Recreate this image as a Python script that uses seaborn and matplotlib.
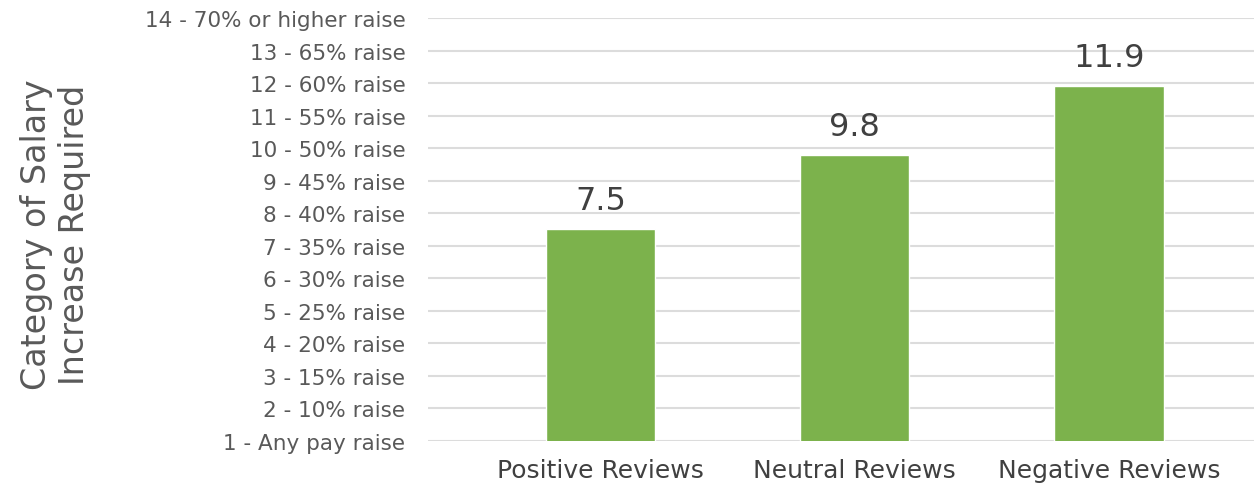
import matplotlib
matplotlib.use("Agg")
import matplotlib.pyplot as plt
import seaborn as sns
import pandas as pd

# data
groups = ["Positive Reviews", "Neutral Reviews", "Negative Reviews"]
values = [7.5, 9.8, 11.9]
ytick_labels = [
    "1 - Any pay raise", "2 - 10% raise", "3 - 15% raise", "4 - 20% raise",
    "5 - 25% raise", "6 - 30% raise", "7 - 35% raise", "8 - 40% raise",
    "9 - 45% raise", "10 - 50% raise", "11 - 55% raise", "12 - 60% raise",
    "13 - 65% raise", "14 - 70% or higher raise",
]

df = pd.DataFrame({"group": groups, "value": values})

sns.set_style("white")
plt.rcParams["font.family"] = ["DejaVu Sans"]

fig = plt.figure(figsize=(12.54, 4.85), dpi=100)
ax = fig.add_axes([0.341, 0.0887, 0.659, 0.8722])

sns.barplot(data=df, x="group", y="value", ax=ax, color="#7cb24c",
            saturation=1, width=0.43)

ax.set_ylim(1, 14)
ax.set_xlim(-0.68, 2.57)
ax.set_yticks(range(1, 15))
ax.set_yticklabels(ytick_labels, fontsize=15.5, color="#595959")
ax.tick_params(axis="x", labelsize=18, labelcolor="#404040", length=0, pad=12)
ax.tick_params(axis="y", length=0, pad=16)
ax.yaxis.grid(True, color="#dcdcdc", linewidth=1.5)
ax.set_axisbelow(True)
for s in ax.spines.values():
    s.set_visible(False)

ax.set_xlabel("")
ax.set_ylabel("Category of Salary\nIncrease Required", fontsize=24,
              color="#595959", linespacing=1.2, va="center")
ax.yaxis.set_label_coords(-0.45, 0.49)

for i, v in enumerate(values):
    ax.text(i, v + 0.4, f"{v}", ha="center", va="bottom", fontsize=23,
            color="#404040")

fig.savefig("out.png", dpi=100)
